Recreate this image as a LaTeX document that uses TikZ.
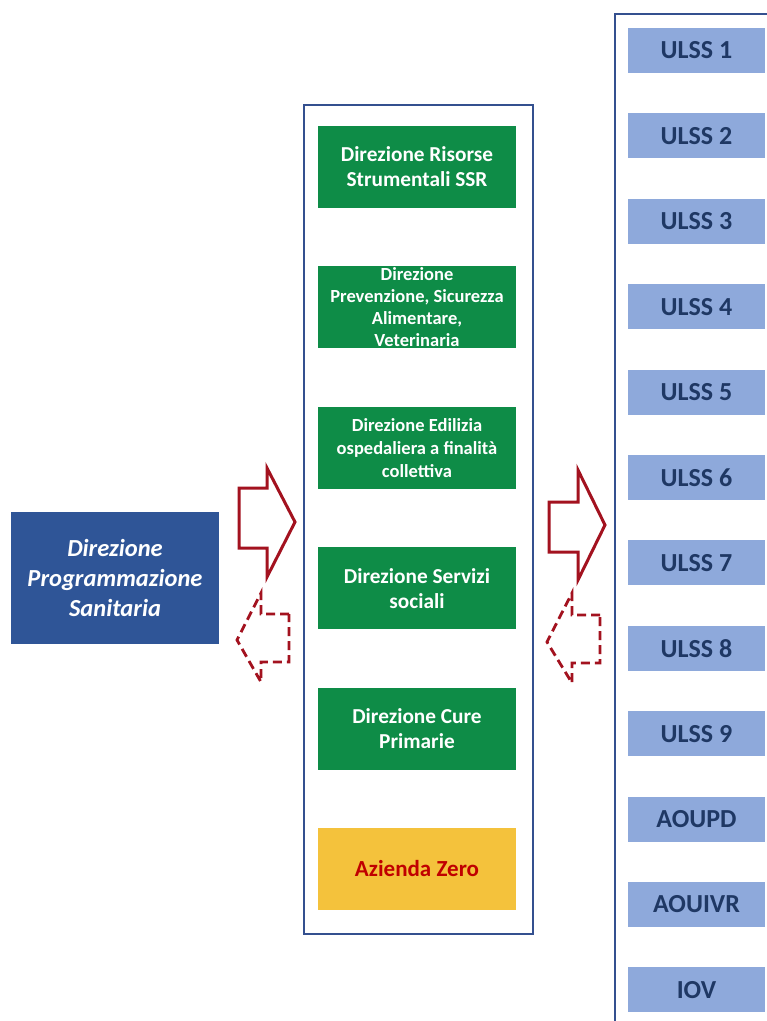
\documentclass[tikz,border=0pt]{standalone}
\usepackage{fontspec}
\setmainfont{Carlito}
\usetikzlibrary{positioning}
\definecolor{frameBlue}{HTML}{34508F}
\definecolor{progBlue}{HTML}{2F5597}
\definecolor{dirGreen}{HTML}{0E8C47}
\definecolor{zeroGold}{HTML}{F4C23C}
\definecolor{zeroRed}{HTML}{C00000}
\definecolor{ulssBlue}{HTML}{8EA9DB}
\definecolor{ulssText}{HTML}{1F3864}
\definecolor{arrowRed}{HTML}{A3121F}

\begin{document}
\begin{tikzpicture}
  [x=1pt,y=-1pt,
   frameBox/.style={draw=frameBlue,line width=2pt},
   dirBox/.style={rectangle,fill=dirGreen,text=white,minimum width=198pt,minimum height=82pt,inner sep=0pt,align=center,font=\bfseries\fontsize{21.3}{25}\selectfont,node distance=58pt},
   dirSmall/.style={dirBox,font=\bfseries\fontsize{18.5}{22}\selectfont},
   zeroBox/.style={dirBox,fill=zeroGold,text=zeroRed,font=\bfseries\fontsize{23}{27}\selectfont},
   ulssBox/.style={rectangle,fill=ulssBlue,text=ulssText,minimum width=137pt,minimum height=45pt,inner sep=0pt,font=\bfseries\fontsize{26}{30}\selectfont,node distance=40pt},
   progBox/.style={rectangle,fill=progBlue,text=white,minimum width=208pt,minimum height=132pt,inner sep=0pt,align=center,font=\bfseries\itshape\fontsize{24.5}{30}\selectfont},
   blockArrow/.style={draw=arrowRed,line width=3pt,line join=miter},
   backArrow/.style={blockArrow,line width=2.8pt,dash pattern=on 9pt off 5pt}]
  \clip (0,0) rectangle (767,1021);
  \fill[white] (0,0) rectangle (767,1021);

  % left block
  \node[progBox] (prog) at (115,578) {Direzione\\Programmazione\\Sanitaria};

  % middle column
  \draw[frameBox] (304,105) rectangle (533,934);
  \node[dirBox] (risorse) at (417,167) {Direzione Risorse\\Strumentali SSR};
  \node[dirSmall] (prevenzione) [below=of risorse] {Direzione\\Prevenzione, Sicurezza\\Alimentare,\\Veterinaria};
  \node[dirSmall,font=\bfseries\fontsize{18.5}{23}\selectfont] (edilizia) [below=of prevenzione] {Direzione Edilizia\\ospedaliera a finalità\\collettiva};
  \node[dirBox] (sociali) [below=of edilizia] {Direzione Servizi\\sociali};
  \node[dirBox] (cure) [below=of sociali] {Direzione Cure\\Primarie};
  \node[zeroBox] (zero) [below=of cure] {Azienda Zero};

  % right column
  \draw[frameBox] (615,14) rectangle (800,1060);
  \node[ulssBox] (ulss1) at (696.5,50.5) {ULSS 1};
  \node[ulssBox] (ulss2) [below=of ulss1] {ULSS 2};
  \node[ulssBox] (ulss3) [below=of ulss2] {ULSS 3};
  \node[ulssBox] (ulss4) [below=of ulss3] {ULSS 4};
  \node[ulssBox] (ulss5) [below=of ulss4] {ULSS 5};
  \node[ulssBox] (ulss6) [below=of ulss5] {ULSS 6};
  \node[ulssBox] (ulss7) [below=of ulss6] {ULSS 7};
  \node[ulssBox] (ulss8) [below=of ulss7] {ULSS 8};
  \node[ulssBox] (ulss9) [below=of ulss8] {ULSS 9};
  \node[ulssBox] (aoupd) [below=of ulss9] {AOUPD};
  \node[ulssBox] (aouivr) [below=of aoupd] {AOUIVR};
  \node[ulssBox] (iov) [below=of aouivr] {IOV};

  % arrows
  \draw[blockArrow] (239,488) -- (267,488) -- (267,468) -- (295,522) -- (267,577) -- (267,548) -- (239,548) -- cycle;
  \draw[backArrow] (289,614) -- (261,614) -- (261,593) -- (237,640) -- (261,682) -- (261,662) -- (289,662) -- cycle;
  \draw[blockArrow] (549,502) -- (578,502) -- (578,470) -- (605,525) -- (578,580) -- (578,552) -- (549,552) -- cycle;
  \draw[backArrow] (600,615) -- (572,615) -- (572,593) -- (547,642) -- (572,683) -- (572,663) -- (600,663) -- cycle;
\end{tikzpicture}
\end{document}
